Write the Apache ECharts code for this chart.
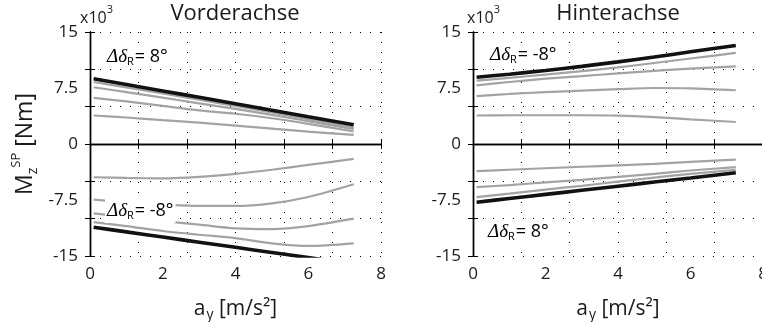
<!DOCTYPE html>
<html>
<head>
<meta charset="utf-8">
<script src="https://cdn.jsdelivr.net/npm/echarts@6/dist/echarts.min.js"></script>
<style>
  html, body { margin: 0; padding: 0; background: #fff; }
  #chart { width: 762px; height: 322px; }
</style>
</head>
<body>
<div id="chart"></div>
<script>
const FONT = '"Open Sans", "Noto Sans", sans-serif';
const SERIF = '"Liberation Serif", "DejaVu Serif", serif';

// lateral acceleration a_y [m/s²] at which the moments are sampled
const ay = [0.1, 1, 2, 3, 4, 5, 6, 7.25];

// axis tick labels
const xTickLabels = [0, 2, 4, 6, 8];
const yTickLabels = [-15, -7.5, 0, 7.5, 15];
const xGridSteps = 6;   // dotted grid divisions along a_y
const yGridSteps = 6;   // dotted grid divisions along M_z

// Vorderachse, M_z^SP in 10³ Nm
const vaPosBlack = [8.75, 7.97, 7.11, 6.25, 5.38, 4.52, 3.65, 2.57];
const vaPosGray1 = [8.3, 7.58, 6.76, 5.93, 5.1, 4.22, 3.3, 2.2];
const vaPosGray2 = [7.6, 6.95, 6.2, 5.45, 4.7, 3.9, 3.05, 2.0];
const vaPosGray3 = [6.18, 5.7, 5.1, 4.5, 4.05, 3.45, 2.7, 1.67];
const vaPosGray4 = [3.82, 3.55, 3.2, 2.85, 2.45, 2.05, 1.65, 1.23];
const vaNegGray1 = [-4.45, -4.55, -4.6, -4.4, -4.0, -3.45, -2.8, -2.0];
const vaNegGray2 = [-7.45, -7.8, -8.1, -8.3, -8.3, -7.95, -7.1, -5.4];
const vaNegGray3 = [-9.3, -9.75, -10.3, -10.8, -11.3, -11.4, -11.0, -10.0];
const vaNegGray4 = [-10.47, -11.0, -11.65, -12.15, -12.6, -13.3, -13.65, -13.3];
const vaNegBlack = [-11.15, -11.77, -12.46, -13.15, -13.84, -14.53, -15.22, -16.08];

// Hinterachse, M_z^SP in 10³ Nm
const haPosBlack = [8.95, 9.35, 9.85, 10.4, 11.0, 11.65, 12.35, 13.2];
const haPosGray1 = [8.5, 8.85, 9.3, 9.75, 10.25, 10.85, 11.45, 12.2];
const haPosGray2 = [7.85, 8.3, 8.75, 9.1, 9.45, 9.8, 10.1, 10.4];
const haPosGray3 = [6.4, 6.7, 6.95, 7.15, 7.35, 7.5, 7.45, 7.2];
const haPosGray4 = [3.82, 3.85, 3.85, 3.85, 3.8, 3.6, 3.3, 2.95];
const haNegGray1 = [-3.64, -3.45, -3.25, -3.05, -2.85, -2.65, -2.4, -2.1];
const haNegGray2 = [-5.78, -5.5, -5.15, -4.8, -4.4, -4.0, -3.55, -3.1];
const haNegGray3 = [-7.12, -6.65, -6.1, -5.6, -5.05, -4.5, -4.0, -3.46];
const haNegBlack = [-7.79, -7.3, -6.75, -6.2, -5.65, -5.1, -4.55, -3.86];

const GRAY = '#a3a3a3';
const BLACK = '#111111';

const grids = [
  { left: 90, top: 32, width: 291, height: 224 },
  { left: 473, top: 32, width: 290, height: 224 }
];

const tickLabelStyle = { fontFamily: FONT, fontSize: 17, color: '#1a1a1a' };
const frameLine = { show: true, lineStyle: { color: '#000', width: 1.4 } };
const innerTick = { show: true, inside: true, length: 5, lineStyle: { color: '#000', width: 1 } };
const dotted = { show: true, lineStyle: { color: '#000', width: 1, type: [1, 9] } };

const xAxes = [];
const yAxes = [];
grids.forEach((g, gi) => {
  // a_y axis carrying the data and its labels
  xAxes.push({
    gridIndex: gi, type: 'value', position: 'bottom',
    min: xTickLabels[0], max: xTickLabels[xTickLabels.length - 1],
    interval: xTickLabels[1] - xTickLabels[0],
    axisLine: { show: false }, axisTick: { show: false }, splitLine: { show: false },
    axisLabel: Object.assign({ margin: 10 }, tickLabelStyle),
    name: '{a|a}{s|y}{a| [m/s²]}', nameLocation: 'middle', nameGap: 40,
    nameTextStyle: {
      rich: {
        a: { fontFamily: FONT, fontSize: 21, color: '#1a1a1a', lineHeight: 26 },
        s: { fontFamily: FONT, fontSize: 14, color: '#1a1a1a', lineHeight: 24, verticalAlign: 'bottom', padding: [0, 0, 0, 1] }
      }
    }
  });
  // bottom frame with dotted grid and inner ticks
  xAxes.push({
    gridIndex: gi, type: 'value', position: 'bottom', min: 0, max: xGridSteps, interval: 1,
    axisLine: frameLine, axisTick: innerTick, axisLabel: { show: false }, splitLine: dotted
  });
  // top frame
  xAxes.push({
    gridIndex: gi, type: 'value', position: 'top', min: 0, max: xGridSteps, interval: 1,
    axisLine: frameLine, axisTick: innerTick, axisLabel: { show: false }, splitLine: { show: false }
  });

  // M_z axis carrying the data and its labels
  const yLabelAxis = {
    gridIndex: gi, type: 'value', position: 'left',
    min: yTickLabels[0], max: yTickLabels[yTickLabels.length - 1],
    interval: yTickLabels[1] - yTickLabels[0],
    axisLine: { show: false }, axisTick: { show: false }, splitLine: { show: false },
    axisLabel: Object.assign({ margin: 12 }, tickLabelStyle)
  };
  if (gi === 0) {
    Object.assign(yLabelAxis, {
      name: '{a|M}{sub|z}{sup|SP}{a| [Nm]}', nameLocation: 'middle', nameGap: 50,
      nameTextStyle: {
        rich: {
          a: { fontFamily: FONT, fontSize: 23, color: '#1a1a1a', lineHeight: 30 },
          sub: { fontFamily: FONT, fontSize: 14, color: '#1a1a1a', lineHeight: 26, verticalAlign: 'bottom' },
          sup: { fontFamily: FONT, fontSize: 13, color: '#1a1a1a', lineHeight: 13, verticalAlign: 'top' }
        }
      }
    });
  }
  yAxes.push(yLabelAxis);
  // left frame with dotted grid and inner ticks
  yAxes.push({
    gridIndex: gi, type: 'value', position: 'left', min: -yGridSteps / 2, max: yGridSteps / 2, interval: 1,
    axisLine: frameLine, axisTick: innerTick, axisLabel: { show: false }, splitLine: dotted
  });
  // right frame
  yAxes.push({
    gridIndex: gi, type: 'value', position: 'right', min: -yGridSteps / 2, max: yGridSteps / 2, interval: 1,
    axisLine: frameLine, axisTick: innerTick, axisLabel: { show: false }, splitLine: { show: false }
  });
});

function curve(name, gi, vals, color, width, z) {
  return {
    name, type: 'line', xAxisIndex: gi * 3, yAxisIndex: gi * 3,
    data: ay.map((x, i) => [x, vals[i]]),
    smooth: 0.3, symbol: 'none', silent: true, clip: true, z,
    lineStyle: { color, width, cap: 'butt' }
  };
}

const zeroLine = {
  silent: true, symbol: ['none', 'none'], label: { show: false },
  lineStyle: { color: '#000', width: 1, type: [6, 4] },
  data: [{ yAxis: 0 }]
};

const series = [
  Object.assign(curve('VA 2', 0, vaPosGray4, GRAY, 2.2, 3), { markLine: zeroLine }),
  curve('VA 4', 0, vaPosGray3, GRAY, 2.2, 3),
  curve('VA 6', 0, vaPosGray2, GRAY, 2.2, 3),
  curve('VA 7', 0, vaPosGray1, GRAY, 2.2, 3),
  curve('VA 8', 0, vaPosBlack, BLACK, 3.6, 4),
  curve('VA -2', 0, vaNegGray1, GRAY, 2.2, 3),
  curve('VA -4', 0, vaNegGray2, GRAY, 2.2, 3),
  curve('VA -6', 0, vaNegGray3, GRAY, 2.2, 3),
  curve('VA -7', 0, vaNegGray4, GRAY, 2.2, 3),
  curve('VA -8', 0, vaNegBlack, BLACK, 3.6, 4),

  Object.assign(curve('HA -2', 1, haPosGray4, GRAY, 2.2, 3), { markLine: zeroLine }),
  curve('HA -4', 1, haPosGray3, GRAY, 2.2, 3),
  curve('HA -6', 1, haPosGray2, GRAY, 2.2, 3),
  curve('HA -7', 1, haPosGray1, GRAY, 2.2, 3),
  curve('HA -8', 1, haPosBlack, BLACK, 3.6, 4),
  curve('HA 2', 1, haNegGray1, GRAY, 2.2, 3),
  curve('HA 4', 1, haNegGray2, GRAY, 2.2, 3),
  curve('HA 6', 1, haNegGray3, GRAY, 2.2, 3),
  curve('HA 8', 1, haNegBlack, BLACK, 3.6, 4)
];

// Δδ_R annotation text with white backing
const deltaRich = {
  d: { fontFamily: SERIF, fontStyle: 'italic', fontSize: 19, color: '#1a1a1a', lineHeight: 20 },
  r: { fontFamily: FONT, fontSize: 11, color: '#1a1a1a', lineHeight: 20, verticalAlign: 'bottom', padding: [0, 1, 0, 0] },
  t: { fontFamily: FONT, fontSize: 18, color: '#1a1a1a', lineHeight: 20 }
};
function deltaLabel(x, y, value) {
  return {
    type: 'text', x, y, z: 100, silent: true,
    style: {
      text: '{d|Δδ}{r|R}{t|= ' + value + '°}', rich: deltaRich,
      align: 'left', verticalAlign: 'middle',
      backgroundColor: '#fff', padding: [2, 2, 2, 2]
    }
  };
}
function plainText(x, y, text, size, align) {
  return {
    type: 'text', x, y, z: 100, silent: true,
    style: { text, fontFamily: FONT, fontSize: size, fill: '#1a1a1a', align: align || 'center', verticalAlign: 'middle' }
  };
}
// "x10³" exponent marker above the value axis
function scaleMark(x, y) {
  return {
    type: 'text', x, y, z: 100, silent: true,
    style: {
      text: '{b|x10}{e|3}', align: 'left', verticalAlign: 'middle',
      rich: {
        b: { fontFamily: FONT, fontSize: 16, fill: '#1a1a1a', lineHeight: 22, verticalAlign: 'bottom' },
        e: { fontFamily: FONT, fontSize: 11, fill: '#1a1a1a', lineHeight: 22, verticalAlign: 'top' }
      }
    }
  };
}

const option = {
  animation: false,
  backgroundColor: '#fff',
  grid: grids.map(g => Object.assign({ containLabel: false, outerBoundsMode: 'none' }, g)),
  xAxis: xAxes,
  yAxis: yAxes,
  series,
  graphic: [
    plainText(235, 14, 'Vorderachse', 22),
    plainText(618, 14, 'Hinterachse', 22),
    scaleMark(80, 15),
    scaleMark(467, 15),
    deltaLabel(105, 57, '8'),
    deltaLabel(105, 211, '-8'),
    deltaLabel(488, 55, '-8'),
    deltaLabel(486, 232, '8')
  ]
};

const chart = echarts.init(document.getElementById('chart'), null, { renderer: 'canvas' });
chart.setOption(option);
</script>
</body>
</html>
